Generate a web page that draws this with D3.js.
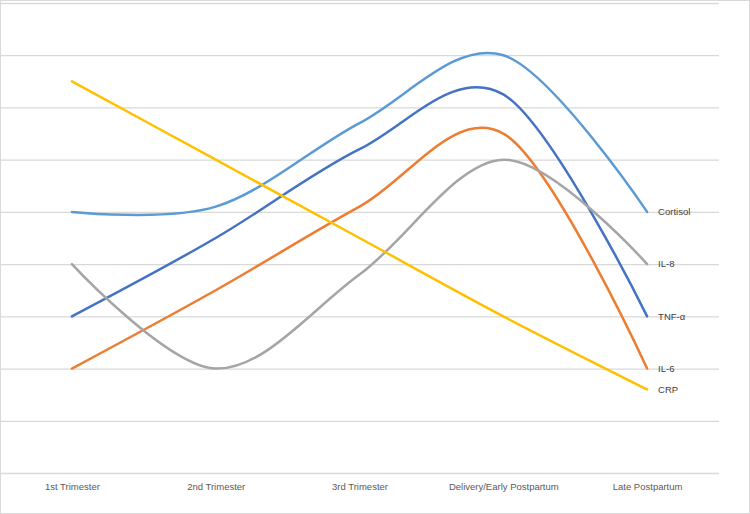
<!DOCTYPE html>
<html><head><meta charset="utf-8">
<script src="https://cdn.jsdelivr.net/npm/d3@7"></script>
<style>
html,body{margin:0;padding:0;background:#fff;}
svg{display:block;}
</style></head>
<body>
<svg id="chart" width="750" height="514"></svg>
<script>
const categories = ["1st Trimester", "2nd Trimester", "3rd Trimester", "Delivery/Early Postpartum", "Late Postpartum"];
const seriesNames = ["Cortisol", "TNF-\u03B1", "IL-6", "IL-8", "CRP"];
const cortisol = [5, 5.1, 6.7, 8.0, 5];
const tnf = [3, 4.5, 6.2, 7.25, 3];
const il6 = [2, 3.5, 5.1, 6.5, 2];
const il8 = [4, 2, 3.8, 6.0, 4];
const crp = [7.5, 6, 4.5, 3, 1.6];
const yTicks = [0, 1, 2, 3, 4, 5, 6, 7, 8, 9];
const colors = ["#5B9BD5", "#4472C4", "#ED7D31", "#A5A5A5", "#FFC000"];

const series = [cortisol, tnf, il6, il8, crp].map((v, i) => ({name: seriesNames[i], values: v, color: colors[i]}));

const svg = d3.select("#chart");
svg.append("rect").attr("x", 0.5).attr("y", 0.5).attr("width", 749).attr("height", 513)
  .attr("fill", "#fff").attr("stroke", "#d9d9d9").attr("stroke-width", 1);

const plotL = 0, plotR = 719;
const x = d3.scalePoint().domain(categories).range([plotL, plotR]).padding(0.5);
const y = d3.scaleLinear().domain([0, 9]).range([473, 3]);

// gridlines
const grid = svg.append("g").attr("transform", `translate(${plotL},0)`)
  .call(d3.axisLeft(y).tickValues(yTicks).tickSize(-(plotR - plotL)).tickFormat(""));
grid.select(".domain").remove();
grid.selectAll(".tick line").attr("stroke", "#d9d9d9").attr("stroke-width", 1.3);

// x axis labels
const xa = svg.append("g").attr("transform", `translate(0,${y(0)})`)
  .call(d3.axisBottom(x).tickSize(0).tickPadding(10));
xa.select(".domain").remove();
xa.selectAll("text").attr("fill", "#595959")
  .style("font-family", "'Liberation Sans','Arial',sans-serif")
  .style("font-size", "9.5px");

// lines
const line = d3.line()
  .x((d, i) => x(categories[i]))
  .y(d => y(d))
  .curve(d3.curveCardinal.tension(0));

svg.append("g").selectAll("path").data(series).join("path")
  .attr("d", d => line(d.values))
  .attr("fill", "none")
  .attr("stroke", d => d.color)
  .attr("stroke-width", 2.5)
  .attr("stroke-linecap", "round")
  .attr("stroke-linejoin", "round");

// end labels
svg.append("g").selectAll("text").data(series).join("text")
  .attr("x", x(categories[categories.length - 1]) + 11)
  .attr("y", d => y(d.values[d.values.length - 1]))
  .attr("dy", "0.35em")
  .attr("fill", "#404040")
  .style("font-family", "'Liberation Sans','Arial',sans-serif")
  .style("font-size", "9.5px")
  .text(d => d.name);
</script>
</body></html>
